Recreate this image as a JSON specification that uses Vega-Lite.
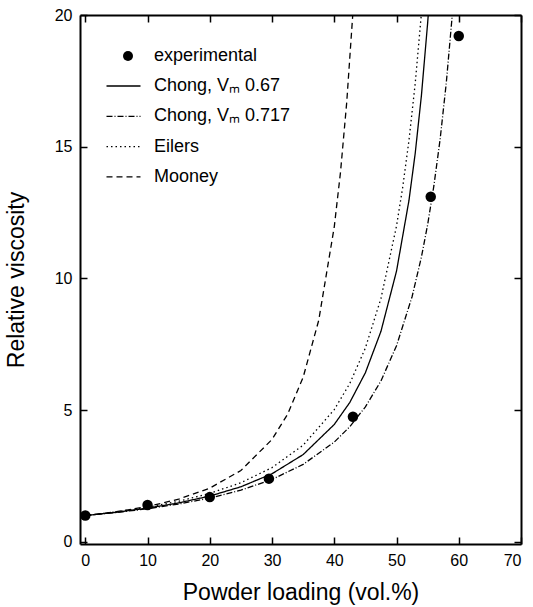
{
  "$schema": "https://vega.github.io/schema/vega-lite/v6.json",
  "autosize": {"type": "none"},
  "width": 441,
  "height": 529,
  "padding": {"left": 80, "top": 15, "right": 12, "bottom": 63},
  "background": "white",
  "config": {
    "font": "Liberation Sans",
    "view": {"stroke": null},
    "axis": {
      "grid": false,
      "domainColor": "black",
      "domainWidth": 2,
      "tickColor": "black",
      "tickWidth": 1.5,
      "tickSize": -7,
      "labelColor": "black",
      "labelFont": "Liberation Sans",
      "labelFontSize": 16,
      "labelPadding": 15,
      "titleColor": "black",
      "titleFont": "Liberation Sans",
      "titleFontSize": 23,
      "titleFontWeight": "normal"
    },
    "legend": {
      "labelFont": "Liberation Sans",
      "labelFontSize": 18,
      "labelColor": "black",
      "rowPadding": 12.3,
      "padding": 0
    }
  },
  "datasets": {
    "pts": [
      {"series": "experimental", "x": 0, "y": 1.0},
      {"series": "experimental", "x": 10, "y": 1.4},
      {"series": "experimental", "x": 20, "y": 1.7},
      {"series": "experimental", "x": 29.5, "y": 2.4},
      {"series": "experimental", "x": 43, "y": 4.75},
      {"series": "experimental", "x": 55.5, "y": 13.1},
      {"series": "experimental", "x": 60, "y": 19.2}
    ],
    "curves": [
      {"series": "Chong, Vₘ 0.67", "x": 0, "y": 1.0},
      {"series": "Chong, Vₘ 0.67", "x": 5, "y": 1.125},
      {"series": "Chong, Vₘ 0.67", "x": 10, "y": 1.281},
      {"series": "Chong, Vₘ 0.67", "x": 15, "y": 1.480},
      {"series": "Chong, Vₘ 0.67", "x": 20, "y": 1.740},
      {"series": "Chong, Vₘ 0.67", "x": 25, "y": 2.092},
      {"series": "Chong, Vₘ 0.67", "x": 30, "y": 2.586},
      {"series": "Chong, Vₘ 0.67", "x": 35, "y": 3.314},
      {"series": "Chong, Vₘ 0.67", "x": 40, "y": 4.457},
      {"series": "Chong, Vₘ 0.67", "x": 42.5, "y": 5.295},
      {"series": "Chong, Vₘ 0.67", "x": 45, "y": 6.422},
      {"series": "Chong, Vₘ 0.67", "x": 47.5, "y": 7.992},
      {"series": "Chong, Vₘ 0.67", "x": 50, "y": 10.278},
      {"series": "Chong, Vₘ 0.67", "x": 52, "y": 12.96},
      {"series": "Chong, Vₘ 0.67", "x": 53, "y": 14.74},
      {"series": "Chong, Vₘ 0.67", "x": 54, "y": 16.94},
      {"series": "Chong, Vₘ 0.67", "x": 55, "y": 19.69},
      {"series": "Chong, Vₘ 0.67", "x": 55.2, "y": 20.33},
      {"series": "Chong, Vₘ 0.717", "x": 0, "y": 1.0},
      {"series": "Chong, Vₘ 0.717", "x": 5, "y": 1.116},
      {"series": "Chong, Vₘ 0.717", "x": 10, "y": 1.258},
      {"series": "Chong, Vₘ 0.717", "x": 15, "y": 1.436},
      {"series": "Chong, Vₘ 0.717", "x": 20, "y": 1.665},
      {"series": "Chong, Vₘ 0.717", "x": 25, "y": 1.964},
      {"series": "Chong, Vₘ 0.717", "x": 30, "y": 2.370},
      {"series": "Chong, Vₘ 0.717", "x": 35, "y": 2.942},
      {"series": "Chong, Vₘ 0.717", "x": 40, "y": 3.788},
      {"series": "Chong, Vₘ 0.717", "x": 42.5, "y": 4.375},
      {"series": "Chong, Vₘ 0.717", "x": 45, "y": 5.126},
      {"series": "Chong, Vₘ 0.717", "x": 47.5, "y": 6.111},
      {"series": "Chong, Vₘ 0.717", "x": 50, "y": 7.443},
      {"series": "Chong, Vₘ 0.717", "x": 52.5, "y": 9.307},
      {"series": "Chong, Vₘ 0.717", "x": 54, "y": 10.81},
      {"series": "Chong, Vₘ 0.717", "x": 55, "y": 12.04},
      {"series": "Chong, Vₘ 0.717", "x": 56, "y": 13.51},
      {"series": "Chong, Vₘ 0.717", "x": 57, "y": 15.27},
      {"series": "Chong, Vₘ 0.717", "x": 58, "y": 17.43},
      {"series": "Chong, Vₘ 0.717", "x": 59, "y": 20.11},
      {"series": "Eilers", "x": 0, "y": 1.0},
      {"series": "Eilers", "x": 5, "y": 1.140},
      {"series": "Eilers", "x": 10, "y": 1.315},
      {"series": "Eilers", "x": 15, "y": 1.542},
      {"series": "Eilers", "x": 20, "y": 1.840},
      {"series": "Eilers", "x": 25, "y": 2.246},
      {"series": "Eilers", "x": 30, "y": 2.819},
      {"series": "Eilers", "x": 35, "y": 3.671},
      {"series": "Eilers", "x": 40, "y": 5.021},
      {"series": "Eilers", "x": 42.5, "y": 6.016},
      {"series": "Eilers", "x": 45, "y": 7.361},
      {"series": "Eilers", "x": 47.5, "y": 9.242},
      {"series": "Eilers", "x": 50, "y": 11.99},
      {"series": "Eilers", "x": 51, "y": 13.47},
      {"series": "Eilers", "x": 52, "y": 15.24},
      {"series": "Eilers", "x": 53, "y": 17.39},
      {"series": "Eilers", "x": 54, "y": 20.06},
      {"series": "Mooney", "x": 0, "y": 1.0},
      {"series": "Mooney", "x": 5, "y": 1.145},
      {"series": "Mooney", "x": 10, "y": 1.342},
      {"series": "Mooney", "x": 15, "y": 1.621},
      {"series": "Mooney", "x": 20, "y": 2.040},
      {"series": "Mooney", "x": 25, "y": 2.710},
      {"series": "Mooney", "x": 30, "y": 3.889},
      {"series": "Mooney", "x": 32.5, "y": 4.845},
      {"series": "Mooney", "x": 35, "y": 6.247},
      {"series": "Mooney", "x": 37.5, "y": 8.408},
      {"series": "Mooney", "x": 40, "y": 11.96},
      {"series": "Mooney", "x": 41, "y": 14.03},
      {"series": "Mooney", "x": 42, "y": 16.68},
      {"series": "Mooney", "x": 43, "y": 20.11}
    ]
  },
  "resolve": {"axis": {"x": "independent", "y": "independent"}},
  "layer": [
    {
      "data": {"name": "curves"},
      "mark": {"type": "line", "color": "black", "strokeWidth": 1.3, "clip": true},
      "encoding": {
        "x": {
          "field": "x", "type": "quantitative",
          "scale": {"domain": [-0.85, 70], "nice": false, "zero": false},
          "axis": {"orient": "bottom", "values": [0, 10, 20, 30, 40, 50, 60, 70], "title": "Powder loading (vol.%)", "titleY": 48, "titleBaseline": "middle"}
        },
        "y": {
          "field": "y", "type": "quantitative",
          "scale": {"domain": [-0.08, 20], "nice": false, "zero": false},
          "axis": {"orient": "left", "values": [0, 5, 10, 15, 20], "title": "Relative viscosity", "titleX": -64, "titleBaseline": "middle"}
        },
        "strokeDash": {
          "field": "series", "type": "nominal",
          "scale": {
            "domain": ["Chong, Vₘ 0.67", "Chong, Vₘ 0.717", "Eilers", "Mooney"],
            "range": [[1, 0], [6, 2, 1, 2], [1.5, 3], [6, 4]]
          },
          "legend": {
            "title": null,
            "orient": "none",
            "legendX": 34.5,
            "legendY": 62,
            "symbolType": "M-3.4,0H3.4",
            "symbolSize": 100,
            "symbolStrokeColor": "black",
            "symbolStrokeWidth": 1.3,
            "labelOffset": 21.5
          }
        }
      }
    },
    {
      "data": {"name": "pts"},
      "mark": {"type": "point", "filled": true, "color": "black", "opacity": 1, "size": 110},
      "encoding": {
        "x": {
          "field": "x", "type": "quantitative",
          "axis": {"orient": "top", "values": [0, 10, 20, 30, 40, 50, 60, 70], "labels": false, "title": null}
        },
        "y": {
          "field": "y", "type": "quantitative",
          "axis": {"orient": "right", "values": [0, 5, 10, 15, 20], "labels": false, "title": null}
        },
        "shape": {
          "field": "series", "type": "nominal",
          "scale": {"domain": ["experimental"], "range": ["circle"]},
          "legend": {
            "title": null,
            "orient": "none",
            "legendX": 39,
            "legendY": 32,
            "symbolSize": 100,
            "symbolFillColor": "black",
            "symbolStrokeColor": "black",
            "labelOffset": 17
          }
        }
      }
    }
  ]
}
